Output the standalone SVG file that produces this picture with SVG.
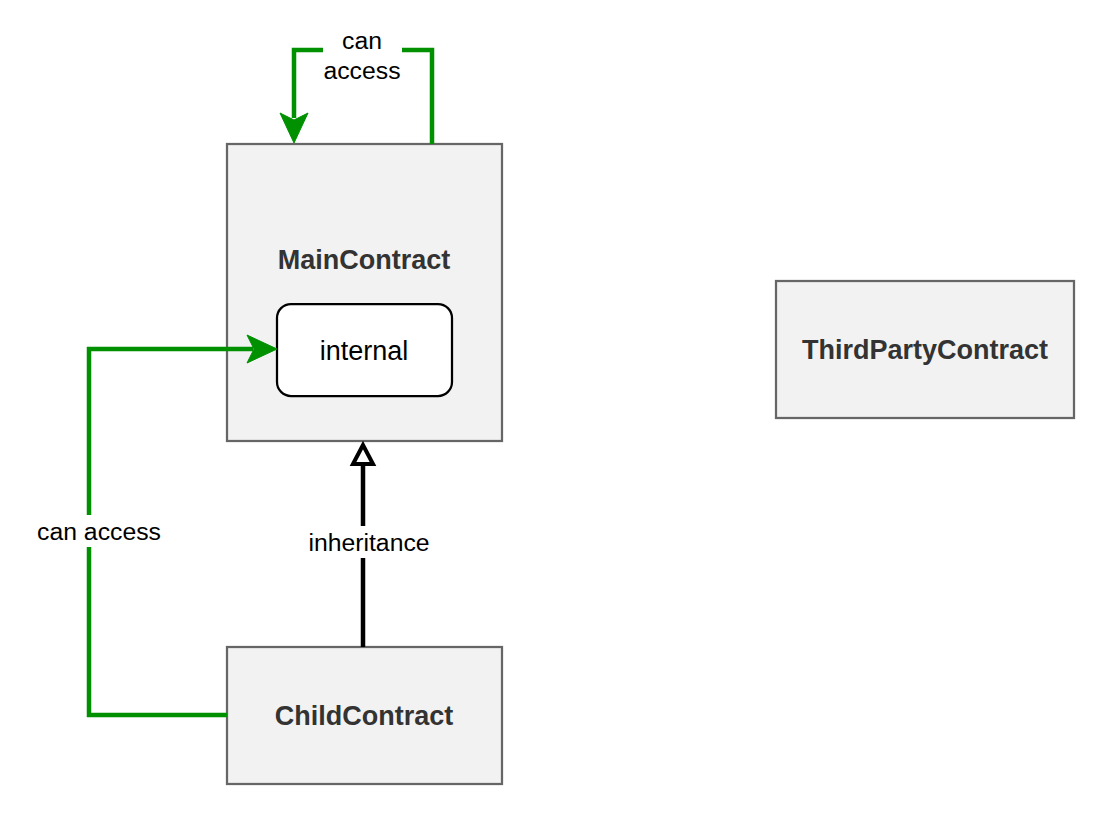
<svg xmlns="http://www.w3.org/2000/svg" width="1098" height="816" viewBox="0 0 1098 816">
<style>
.box{fill:#f2f2f2;stroke:#666666;stroke-width:2.25}
.inner{fill:#ffffff;stroke:#000000;stroke-width:2.25}
.bold{font-family:"Liberation Sans",Arial,sans-serif;font-weight:bold;font-size:27px;fill:#333333;text-anchor:middle;dominant-baseline:central}
.reg{font-family:"Liberation Sans",Arial,sans-serif;font-size:27px;fill:#000000;text-anchor:middle;dominant-baseline:central}
.lbl{font-family:"Liberation Sans",Arial,sans-serif;font-size:24.75px;fill:#000000;text-anchor:middle;dominant-baseline:central}
.green{fill:none;stroke:#009000;stroke-width:4.5}
.black{fill:none;stroke:#000000;stroke-width:4.5}
.bg{fill:#ffffff}
</style>
<rect width="1098" height="816" fill="#ffffff"/>
<g id="MainContract">
<rect class="box" x="227" y="144" width="275" height="297"/>
<text class="bold" x="364" y="260">MainContract</text>
</g>
<g id="internal">
<rect class="inner" x="277" y="304" width="175" height="92" rx="14" ry="14"/>
<text class="reg" x="364" y="351">internal</text>
</g>
<g id="ThirdPartyContract">
<rect class="box" x="776" y="281" width="298" height="137"/>
<text class="bold" x="925" y="350">ThirdPartyContract</text>
</g>
<g id="ChildContract">
<rect class="box" x="227" y="647" width="275" height="137"/>
<text class="bold" x="364" y="716">ChildContract</text>
</g>
<g id="connectors">
<path class="green" d="M432,144 V50 H294 V118"/>
<path d="M294,143 L280,113 L294,120 L308,113 Z" fill="#009000" stroke="#009000" stroke-width="1"/>
<rect class="bg" x="323" y="26" width="79" height="60"/>
<text class="lbl" x="362" y="40">can</text>
<text class="lbl" x="362" y="70">access</text>
<path class="green" d="M227,715 H89 V349 H253"/>
<path d="M277,349 L247,335 L254,349 L247,363 Z" fill="#009000" stroke="#009000" stroke-width="1"/>
<rect class="bg" x="36" y="515" width="128" height="32"/>
<text class="lbl" x="99" y="531">can access</text>
<path class="black" d="M363,647 V465"/>
<path d="M363,445 L353,464 L373,464 Z" fill="#ffffff" stroke="#000000" stroke-width="4"/>
<rect class="bg" x="306" y="526" width="126" height="32"/>
<text class="lbl" x="369" y="542">inheritance</text>
</g>
</svg>
